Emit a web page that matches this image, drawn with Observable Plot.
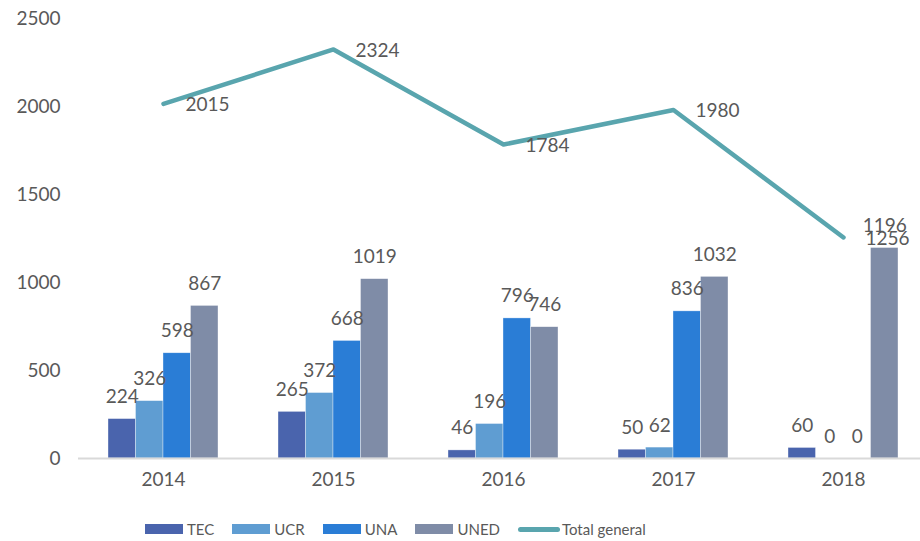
<!DOCTYPE html>
<html>
<head>
<meta charset="utf-8">
<script src="https://cdn.jsdelivr.net/npm/d3@7"></script>
<script src="https://cdn.jsdelivr.net/npm/@observablehq/plot@0.6"></script>
<style>
  body { margin: 0; background: #fff; font-family: Lato, "Open Sans", sans-serif; }
  #legend { display: flex; align-items: center; height: 20px; margin-top: 19px; padding-left: 145px; font-size: 15px; color: #595959; }
  .item { display: flex; align-items: center; margin-right: 18px; }
  .sw { width: 38px; height: 10px; margin-right: 4px; }
  .ln { width: 42px; height: 5px; border-radius: 3px; margin-right: 2px; }
</style>
</head>
<body>
<div id="chart"></div>
<div id="legend"></div>
<script>
const years = ["2014", "2015", "2016", "2017", "2018"];
const series = ["TEC", "UCR", "UNA", "UNED"];
const tec = [224, 265, 46, 50, 60];
const ucr = [326, 372, 196, 62, 0];
const una = [598, 668, 796, 836, 0];
const uned = [867, 1019, 746, 1032, 1196];
const totalGeneral = [2015, 2324, 1784, 1980, 1256];
const yTicks = [0, 500, 1000, 1500, 2000, 2500];
const lineName = "Total general";

const seriesValues = [tec, ucr, una, uned];
const colors = ["#4a64ad", "#5f9dd2", "#2a7dd6", "#7f8ca7"];
const lineColor = "#59a5ae";
const textColor = "#595959";

const W = 920, H = 500, ML = 78, MR = -8;
const padIn = 0.353, padOut = padIn / 2;
const step = (W - ML - MR) / (years.length - padIn + 2 * padOut);
const bw = step * (1 - padIn);
const sub = bw / series.length;

const marks = [];
seriesValues.forEach((vals, i) => {
  const rows = years.map((y, j) => ({year: y, series: series[i], value: vals[j]}));
  marks.push(Plot.barY(rows, {
    x: "year", y: "value", fill: colors[i],
    insetLeft: i * sub, insetRight: (series.length - 1 - i) * sub,
    stroke: "white", strokeWidth: 0.6, strokeOpacity: 0.6
  }));
});
marks.push(Plot.ruleY([0], {stroke: "#d9d9d9", strokeWidth: 2}));
seriesValues.forEach((vals, i) => {
  const rows = years.map((y, j) => ({year: y, value: vals[j]}));
  marks.push(Plot.text(rows, {
    x: "year", y: "value", text: d => String(d.value),
    dx: (i - (series.length - 1) / 2) * sub, dy: -22,
    fill: textColor, fontSize: 19
  }));
});
const totalRows = years.map((y, j) => ({year: y, value: totalGeneral[j]}));
marks.push(Plot.line(totalRows, {
  x: "year", y: "value", stroke: lineColor, strokeWidth: 4.5,
  strokeLinecap: "round", strokeLinejoin: "round"
}));
marks.push(Plot.text(totalRows, {
  x: "year", y: "value", text: d => String(d.value),
  dx: 22, dy: 1, textAnchor: "start", fill: textColor, fontSize: 19
}));
marks.push(Plot.axisY({ticks: yTicks, tickSize: 0, tickPadding: 18, fontSize: 19, fill: textColor, tickFormat: d => String(d)}));
marks.push(Plot.axisX({tickSize: 0, tickPadding: 14, fontSize: 19, fill: textColor}));

const chart = Plot.plot({
  width: W, height: H,
  marginLeft: ML, marginRight: MR, marginTop: 18, marginBottom: 42,
  style: {fontFamily: "Lato, 'Open Sans', sans-serif", color: textColor, background: "white", overflow: "visible"},
  x: {domain: years, paddingInner: padIn, paddingOuter: padOut, label: null},
  y: {domain: [0, 2500], label: null},
  marks
});
document.getElementById("chart").appendChild(chart);

const legend = document.getElementById("legend");
series.forEach((s, i) => {
  const it = document.createElement("div");
  it.className = "item";
  it.innerHTML = `<span class="sw" style="background:${colors[i]}"></span><span>${s}</span>`;
  legend.appendChild(it);
});
const li = document.createElement("div");
li.className = "item";
li.innerHTML = `<span class="ln" style="background:${lineColor}"></span><span>${lineName}</span>`;
legend.appendChild(li);
</script>
</body>
</html>
